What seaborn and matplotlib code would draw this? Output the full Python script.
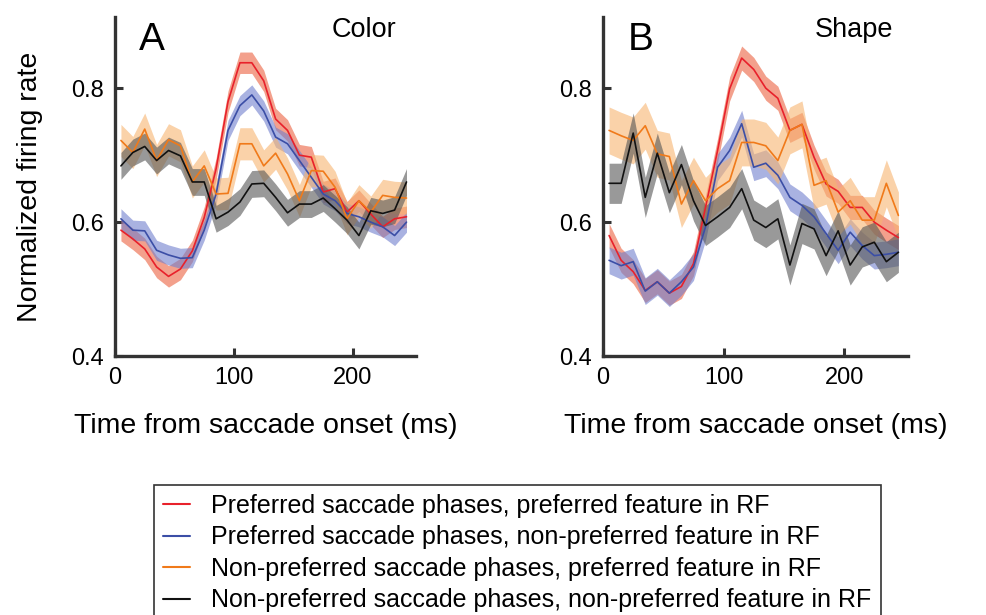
import numpy as np
import pandas as pd
import seaborn as sns
import matplotlib.pyplot as plt
from matplotlib.lines import Line2D

sns.set_style("ticks")
plt.rcParams["font.family"] = ["Liberation Sans", "DejaVu Sans"]
plt.rcParams["text.color"] = "black"
plt.rcParams["axes.labelcolor"] = "black"

# time bins (ms from saccade onset)
t = [5, 15, 25, 35, 45, 55, 65, 75, 85, 95, 105, 115, 125,
     135, 145, 155, 165, 175, 185, 195, 205, 215, 225, 235, 245]

# panel A - Color
a_red = [0.588, 0.575, 0.56, 0.533, 0.519, 0.53, 0.557, 0.607, 0.68, 0.78, 0.838, 0.838, 0.811,
         0.754, 0.737, 0.70, 0.697, 0.645, 0.65, 0.615, 0.632, 0.612, 0.593, 0.605, 0.608]
a_blue = [0.605, 0.588, 0.587, 0.558, 0.551, 0.546, 0.547, 0.588, 0.642, 0.737, 0.774, 0.79, 0.766,
          0.727, 0.717, 0.692, 0.667, 0.642, 0.632, 0.613, 0.608, 0.60, 0.593, 0.58, 0.60]
a_orange = [0.722, 0.704, 0.739, 0.692, 0.723, 0.714, 0.66, 0.684, 0.642, 0.643, 0.717, 0.717, 0.684,
            0.703, 0.672, 0.632, 0.677, 0.676, 0.652, 0.605, 0.632, 0.615, 0.64, 0.637, 0.636]
a_black = [0.684, 0.704, 0.713, 0.692, 0.707, 0.699, 0.66, 0.66, 0.605, 0.615, 0.63, 0.657, 0.658,
           0.637, 0.614, 0.627, 0.627, 0.636, 0.62, 0.603, 0.58, 0.617, 0.613, 0.618, 0.66]
a_err = [0.016, 0.015, 0.024, 0.02]

# panel B - Shape
b_red = [0.58, 0.543, 0.526, 0.498, 0.511, 0.494, 0.504, 0.538, 0.622, 0.707, 0.799, 0.845, 0.828,
         0.80, 0.785, 0.737, 0.746, 0.697, 0.657, 0.646, 0.622, 0.622, 0.60, 0.588, 0.577]
b_blue = [0.543, 0.535, 0.541, 0.497, 0.511, 0.494, 0.511, 0.533, 0.593, 0.682, 0.707, 0.747, 0.682,
          0.688, 0.67, 0.637, 0.625, 0.608, 0.583, 0.558, 0.585, 0.565, 0.55, 0.552, 0.555]
b_orange = [0.737, 0.729, 0.722, 0.744, 0.702, 0.698, 0.627, 0.662, 0.632, 0.65, 0.662, 0.719, 0.719,
            0.714, 0.692, 0.737, 0.746, 0.655, 0.662, 0.615, 0.632, 0.603, 0.603, 0.658, 0.61]
b_black = [0.658, 0.658, 0.733, 0.637, 0.703, 0.644, 0.686, 0.632, 0.595, 0.608, 0.622, 0.65, 0.603,
           0.592, 0.605, 0.536, 0.598, 0.59, 0.55, 0.587, 0.536, 0.563, 0.57, 0.541, 0.555]
b_err = [0.018, 0.02, 0.035, 0.03]

labels = ["Preferred saccade phases, preferred feature in RF",
          "Preferred saccade phases, non-preferred feature in RF",
          "Non-preferred saccade phases, preferred feature in RF",
          "Non-preferred saccade phases, non-preferred feature in RF"]
colors = ["#e8212b", "#3b4ea6", "#f07a1a", "#111111"]
band_colors = ["#eb613f", "#717fcd", "#f7b471", "#555555"]
spine_c = "#333333"

fig = plt.figure(figsize=(9.87, 6.15), dpi=100)
axA = fig.add_axes([0.1165, 0.421, 0.305, 0.551])
axB = fig.add_axes([0.611, 0.421, 0.309, 0.551])


def draw(ax, series, errs, letter, title, title_x):
    for vals, err, c, bc, lab in zip(series, errs, colors, band_colors, labels):
        v = np.array(vals)
        ax.fill_between(t, v - err, v + err, color=bc, alpha=0.6, lw=0)
        sns.lineplot(x=t, y=vals, color=c, lw=1.2, ax=ax, label=lab, legend=False)
    ax.set_xlim(0, 253)
    ax.set_ylim(0.4, 0.906)
    ax.set_xticks([0, 100, 200])
    ax.set_yticks([0.4, 0.6, 0.8])
    ax.set_yticklabels(["0.4", "0.6", "0.8"])
    ax.tick_params(direction="in", length=6, width=2.2, color=spine_c,
                   labelcolor="black", labelsize=17, pad=8)
    for s in ["left", "bottom"]:
        ax.spines[s].set_linewidth(2.4)
        ax.spines[s].set_color(spine_c)
    for s in ["top", "right"]:
        ax.spines[s].set_visible(False)
    ax.set_xlabel("Time from saccade onset (ms)", fontsize=20.5, labelpad=17)
    ax.text(0.08, 0.903, letter, transform=ax.transAxes, fontsize=28, va="baseline")
    ax.text(title_x, 0.941, title, transform=ax.transAxes, fontsize=19.5,
            va="baseline", ha="right")


draw(axA, [a_red, a_blue, a_orange, a_black], a_err, "A", "Color", 0.934)
draw(axB, [b_red, b_blue, b_orange, b_black], b_err, "B", "Shape", 0.951)
axA.set_ylabel("Normalized firing rate", fontsize=20.5, labelpad=20)
axB.set_ylabel("")

handles = [Line2D([0], [0], color=c, lw=1.5) for c in colors]
leg = fig.legend(handles, labels, loc="upper left",
                 bbox_to_anchor=(154 / 987, 1 - 485 / 615), fontsize=18,
                 frameon=True, fancybox=False, handlelength=1.1, handletextpad=0.85,
                 labelspacing=0.3, borderpad=0.35, borderaxespad=0)
leg.get_frame().set_edgecolor("black")
leg.get_frame().set_linewidth(1.2)

fig.savefig("out.png", dpi=100)
